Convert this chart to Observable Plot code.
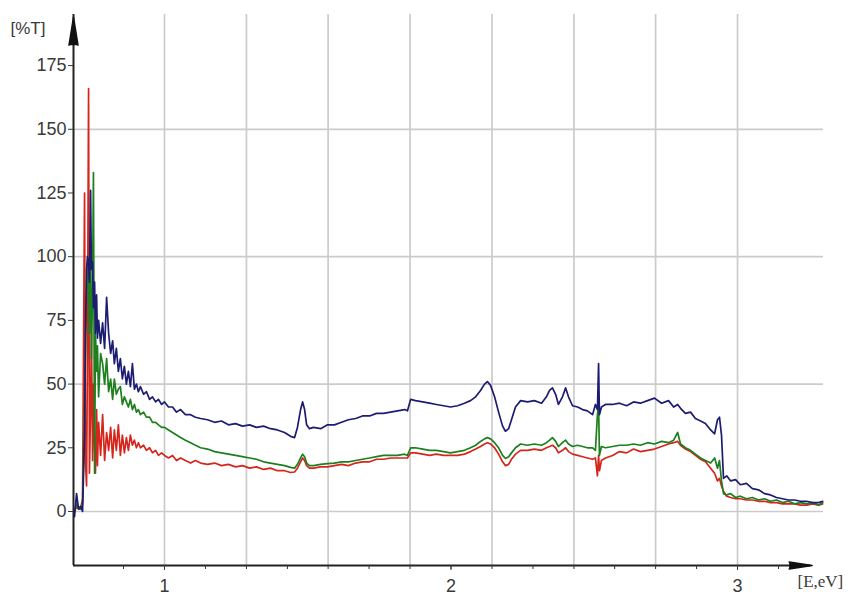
<!DOCTYPE html>
<html><head><meta charset="utf-8">
<script src="https://cdn.jsdelivr.net/npm/d3@7"></script>
<script src="https://cdn.jsdelivr.net/npm/@observablehq/plot@0.6"></script>
<style>body{margin:0;background:#fff;} #chart svg{display:block;}</style>
</head><body><div id="chart"></div>
<script>
// Photon energy, eV
const energy = [
0.686,0.693,0.700,0.707,0.714,0.721,0.724,0.728,0.731,0.735,
0.738,0.742,0.745,0.749,0.752,0.756,0.759,0.763,0.766,0.770,
0.777,0.784,0.791,0.798,0.805,0.812,0.819,0.825,0.832,0.839,
0.846,0.853,0.860,0.867,0.874,0.881,0.888,0.895,0.902,0.909,
0.916,0.927,0.937,0.948,0.958,0.969,0.979,0.990,1.000,1.014,
1.028,1.042,1.056,1.073,1.091,1.108,1.126,1.150,1.175,1.199,
1.223,1.248,1.272,1.297,1.321,1.346,1.370,1.394,1.419,1.440,
1.454,1.464,1.475,1.482,1.489,1.496,1.506,1.520,1.545,1.569,
1.593,1.618,1.642,1.667,1.691,1.716,1.740,1.764,1.789,1.813,
1.838,1.848,1.859,1.876,1.901,1.925,1.949,1.974,1.998,2.023,
2.047,2.068,2.086,2.103,2.117,2.127,2.138,2.152,2.166,2.180,
2.190,2.201,2.211,2.225,2.243,2.267,2.291,2.316,2.333,2.344,
2.354,2.365,2.375,2.389,2.400,2.410,2.424,2.442,2.459,2.476,
2.494,2.504,2.511,2.515,2.518,2.525,2.539,2.564,2.588,2.613,
2.637,2.661,2.686,2.710,2.735,2.759,2.777,2.791,2.801,2.818,
2.836,2.853,2.871,2.888,2.906,2.920,2.930,2.937,2.944,2.951,
2.962,2.976,2.993,3.010,3.031,3.052,3.073,3.094,3.115,3.136,
3.157,3.178,3.199,3.220,3.241,3.262,3.283,3.297];

// Transmittance %T, blue series
const blueT = [
-2,7,1,2,0,30,70,95,100,98,
90,126,95,98,80,90,70,85,68,75,
66,74,64,84,70,62,67,58,64,55,
60,52,57,50,55,49,58,48,50,47,
49,46,47,44,45,43,44,42,43,41,
41,39,40,38,38,37,36.5,36,35,35.5,
34,34.5,33.5,34,33,33.5,32.5,32,31,29.5,
29,33,40,43,40,34,32.5,33,32.5,34,
34,35,36,36.5,37.5,37.5,38.5,38.5,39,39.5,
40,39.5,44,43.5,43,42.5,42,41.5,41,41.5,
42.5,43.5,45,47.5,50,51,49.5,45,39,33.5,
31.5,32.5,36,41,43.5,43,43.5,42.5,45,47.5,
48.5,46,42,45,48.5,45,41.5,41,40,39.5,
38,42,40,58,38,41,42,42,42.5,41.5,
43,42.5,43.5,44.5,42.5,43.5,41,42,40.5,38.5,
39,36.5,35.5,34.5,32,30.5,36,37,30,13,
14,12,12.5,10.5,11,9,8.5,7,6.5,5.5,
5,4.5,4.5,4,4,3.5,3.5,4];

// green series
const greenT = [
0,3,1,1,3,40,60,85,90,96,
70,100,60,88,133,15,70,55,65,45,
62,58,50,60,47,52,44,52,46,48,
49,42,45,43,41,44,40,42,39,40,
38,39,37,37,35,35,34,33,33,32,
31,30,29,28,27,26,25,24.5,23.5,23,
22.5,22,21.5,21,20.5,19.5,19,18.5,18,17.3,
17,18.5,21,22.5,21.5,19,18,18,18.5,18.8,
19,19.5,19.5,20,20.5,21,21.5,22,22,22,
22.5,22,25,25,24.5,24,24,23.5,23,23.5,
24,25,26,27.5,28.5,29,28.5,27,25,22,
20.8,21.5,23,25,26.5,26,26.5,26,27,28,
29,27.5,25.5,27,28,26.5,25.5,26,25.5,25,
25,24,38,42,22,25.5,25,25.5,26,26,
26.5,26,27,26.5,27.5,27,28,31,26.5,25,
24,22.5,21,20,19,21,17,20,12,7,
6.5,7,5.5,6,5,5.5,4.5,5,4,4.5,
3.5,4,3,3.5,3,3.5,2.5,3.5];

// red series
const redT = [
0,2,1,1,5,125,20,10,60,166,
15,40,70,20,50,25,15,40,18,35,
22,38,20,31,24,33,21,32,24,34,
22,30,23,29,24,30,26,28,25,27,
25,26,24,25,23,24,22,23,22,21,
22,20,21,20,19,20,19,18.5,19,18,
18.5,17.5,18,17,17.5,16.5,17,16,16,15.3,
15.5,17,19.5,21,20,18,17,17,17.5,17.5,
18,18.5,18,19,19.5,19.5,20.5,20.5,21,21,
21,21,23,23,22.5,22,22.5,22,22,22,
22.5,23.5,24.5,25.5,26.5,27,26.5,25,22.5,19.5,
18,18.5,20.5,22.5,24,24,24.5,24,25,25.5,
26,25,23,24,25,23.5,22.5,22,21.5,21,
20.5,21,14,22,16,20,21,22,23.5,23,
24.5,23.5,24,24.5,25.5,26.5,27,27.5,26,24.5,
23.5,22,20.5,19.5,17,15,12,13,10,8,
6,5.5,5,5,4.5,4.5,4,4,3.5,3.5,
3,3,3,2.5,2.5,3,2.5,3];

const yTicks = [0,25,50,75,100,125,150,175];
const yGrid = [0,50,100,150];
const xLabelTicks = [1,2,3];
const xMinorTicks = [0.857,1,1.143,1.286,1.429,1.571,1.714,1.857,2,2.143,2.286,2.429,2.571,2.714,2.857,3,3.143];
const xGrid = [1,1.286,1.571,1.857,2.143,2.429,2.714,3];
const xDomain = [0.6824, 3.300];
const yDomain = [-21.2, 195.05];
const xAxisEnd = 3.255;
const xArrowBase = 3.180;
const yArrowBase = 183.0;

const rows = (arr) => energy.map((e, i) => ({E: e, T: arr[i]}));

const chart = Plot.plot({
  width: 850, height: 602,
  marginLeft: 73, marginRight: 27, marginTop: 14, marginBottom: 37,
  x: {domain: xDomain},
  y: {domain: yDomain},
  style: {fontFamily: "Liberation Sans, Arial, sans-serif", background: "#fff", overflow: "visible"},
  marks: [
    Plot.ruleY(yGrid, {stroke: "#cbcbcb", strokeWidth: 1.7}),
    Plot.ruleX(xGrid, {stroke: "#cbcbcb", strokeWidth: 1.7}),
    Plot.line(rows(redT), {x: "E", y: "T", stroke: "#d4261c", strokeWidth: 1.7}),
    Plot.line(rows(greenT), {x: "E", y: "T", stroke: "#1d7f1d", strokeWidth: 1.7}),
    Plot.line(rows(blueT), {x: "E", y: "T", stroke: "#1c1c72", strokeWidth: 1.7}),
    Plot.ruleX([xDomain[0]], {y1: yDomain[0], y2: yDomain[1], stroke: "#222", strokeWidth: 2}),
    Plot.ruleY([yDomain[0]], {x1: xDomain[0], x2: xAxisEnd, stroke: "#222", strokeWidth: 2}),
    Plot.vector([{x: xDomain[0], y: yArrowBase}], {x: "x", y: "y", length: 28, rotate: 0, anchor: "start", shape: "spike", r: 4.5, fill: "#111", stroke: "#111", fillOpacity: 1}),
    Plot.vector([{x: xArrowBase, y: yDomain[0]}], {x: "x", y: "y", length: 23, rotate: 90, anchor: "start", shape: "spike", r: 3.5, fill: "#111", stroke: "#111", fillOpacity: 1}),
    Plot.axisY(yTicks, {anchor: "left", tickSize: 5, tickPadding: 2, fontSize: 18, color: "#3a3a3a", label: null}),
    Plot.axisX(xMinorTicks, {anchor: "bottom", tickSize: 4, tickFormat: () => "", stroke: "#333", label: null}),
    Plot.axisX(xLabelTicks, {anchor: "bottom", tickSize: 5, tickPadding: 9, fontSize: 18, color: "#3a3a3a", label: null, tickFormat: d3.format("d")}),
    Plot.text(["[%T]"], {frameAnchor: "top-left", dx: -63, dy: 7, textAnchor: "start", fontSize: 17, fill: "#3a3a3a"}),
    Plot.text(["[E,eV]"], {frameAnchor: "bottom-right", dx: -26, dy: 21, textAnchor: "start", fontSize: 17, fontFamily: "Liberation Serif, Times New Roman, serif", fill: "#3a3a3a"})
  ]
});
document.getElementById("chart").appendChild(chart);
</script>
</body></html>
